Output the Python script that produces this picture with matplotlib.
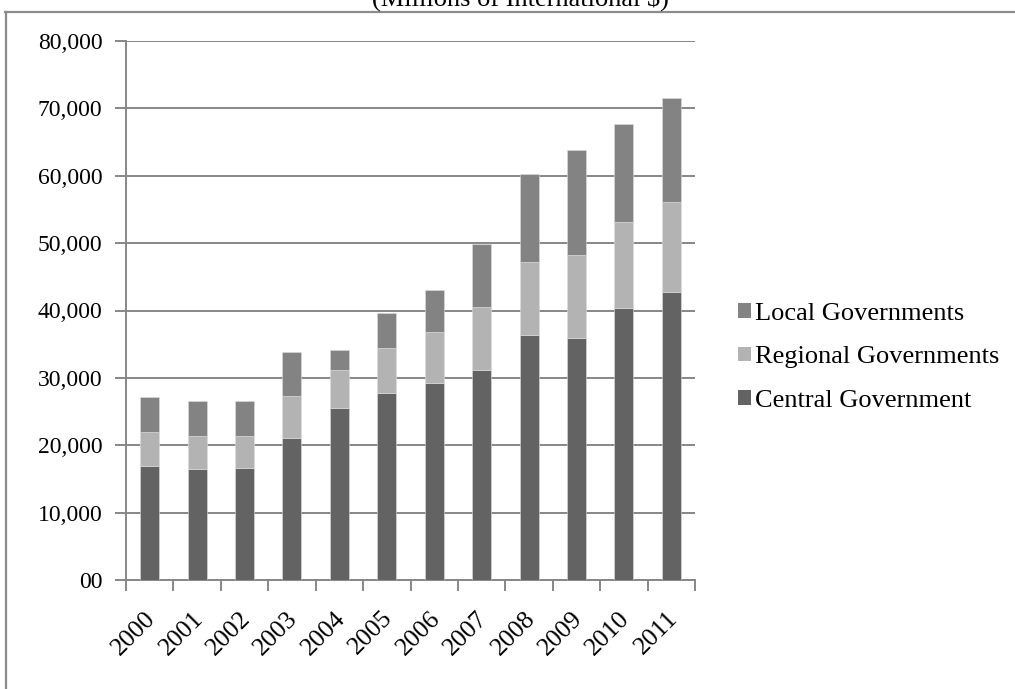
import matplotlib
matplotlib.use("Agg")
import matplotlib.pyplot as plt
from matplotlib.patches import Patch
from matplotlib.lines import Line2D
import numpy as np

# 公共支出构成（百万国际元）
years = ["2000", "2001", "2002", "2003", "2004", "2005",
         "2006", "2007", "2008", "2009", "2010", "2011"]
central = [16900, 16500, 16600, 21100, 25500, 27800,
           29300, 31200, 36300, 35900, 40300, 42700]
regional = [5000, 4900, 4800, 6200, 5700, 6600,
            7500, 9300, 10900, 12300, 12900, 13400]
local = [5200, 5200, 5200, 6500, 3000, 5200,
         6200, 9400, 13100, 15600, 14500, 15500]
y_ticks = [0, 10000, 20000, 30000, 40000, 50000, 60000, 70000, 80000]
y_labels = ["00", "10,000", "20,000", "30,000", "40,000",
            "50,000", "60,000", "70,000", "80,000"]

C_CENTRAL = "#636363"
C_REGIONAL = "#b3b3b3"
C_LOCAL = "#838383"
C_AXIS = "#878787"

plt.rcParams["font.family"] = ["Liberation Serif", "DejaVu Serif"]
FS_TICK = 17
FS_YEAR = 18.5
FS_TEXT = 19

W, H = 1015, 689
fig = plt.figure(figsize=(W / 100, H / 100), dpi=100)
ax = fig.add_axes([126 / W, 1 - 580 / H, (695 - 126) / W, (580 - 41) / H])

x = np.arange(len(years))
c = np.array(central)
r = np.array(regional)
l = np.array(local)
bw = 0.4
ax.bar(x, c, width=bw, color=C_CENTRAL, edgecolor="#dddddd", linewidth=0.4, zorder=3)
ax.bar(x, r, width=bw, bottom=c, color=C_REGIONAL, edgecolor="#dddddd", linewidth=0.4, zorder=3)
ax.bar(x, l, width=bw, bottom=c + r, color=C_LOCAL, edgecolor="#dddddd", linewidth=0.4, zorder=3)

ax.set_xlim(-0.5, len(years) - 0.5)
ax.set_ylim(0, 80000)

# 网格线与坐标轴
ax.set_yticks(y_ticks)
ax.set_yticklabels(y_labels, fontsize=FS_TICK)
ax.yaxis.grid(True, color=C_AXIS, linewidth=1.4, zorder=0)
ax.set_axisbelow(True)
for side in ["top", "right"]:
    ax.spines[side].set_visible(False)
for side in ["left", "bottom"]:
    ax.spines[side].set_color(C_AXIS)
    ax.spines[side].set_linewidth(1.4)
ax.tick_params(axis="y", direction="out", length=8, width=1.4, color=C_AXIS, pad=9)

# x 轴刻度在类别边界，年份标签放在柱子下方（稍向左偏）
ax.set_xticks(np.arange(-0.5, len(years), 1.0))
ax.set_xticklabels([])
ax.tick_params(axis="x", direction="out", length=8, width=1.4, color=C_AXIS)
ax.set_xticks(x - 0.11, minor=True)
ax.set_xticklabels(years, minor=True, rotation=45, ha="right",
                   rotation_mode="anchor", fontsize=FS_YEAR)
ax.tick_params(axis="x", which="minor", length=0, pad=19.5)

# 图例
handles = [Patch(facecolor=C_LOCAL), Patch(facecolor=C_REGIONAL), Patch(facecolor=C_CENTRAL)]
labels = ["Local Governments", "Regional Governments", "Central Government"]
fig.legend(handles, labels, loc="center left", bbox_to_anchor=(725 / W, 1 - 357.5 / H),
           frameon=False, fontsize=FS_TEXT, handlelength=0.47, handleheight=0.47,
           handletextpad=0.18, labelspacing=0.82, borderpad=0)

# 标题（被边框截去上半部分）
fig.text(520 / W, 1 - 6 / H, "(Millions of International $)", ha="center",
         va="baseline", fontsize=FS_TEXT)

# 外边框
fig.add_artist(Line2D([6 / W, 6 / W], [0, 1 - 12 / H], transform=fig.transFigure,
                      color="#8c8c8c", linewidth=1.6))
fig.add_artist(Line2D([5 / W, 1], [1 - 12 / H, 1 - 12 / H], transform=fig.transFigure,
                      color="#8c8c8c", linewidth=1.6))

fig.savefig("out.png", dpi=100)
